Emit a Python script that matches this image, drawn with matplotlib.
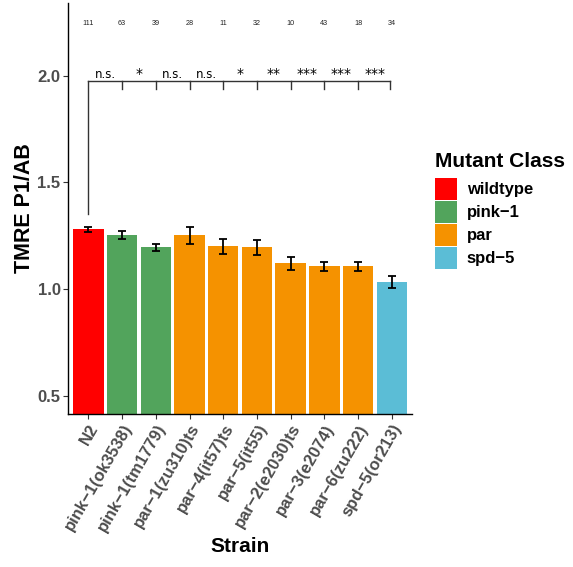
import matplotlib
matplotlib.use("Agg")
import matplotlib.pyplot as plt
from matplotlib.patches import Patch

plt.rcParams['font.family'] = ['Liberation Sans', 'DejaVu Sans']

# data
strains = ["N2", "pink\u22121(ok3538)", "pink\u22121(tm1779)", "par\u22121(zu310)ts",
           "par\u22124(it57)ts", "par\u22125(it55)", "par\u22122(e2030)ts",
           "par\u22123(e2074)", "par\u22126(zu222)", "spd\u22125(or213)"]
classes = ["wildtype", "pink-1", "pink-1", "par", "par", "par", "par", "par", "par", "spd-5"]
means = [1.280, 1.253, 1.197, 1.252, 1.200, 1.197, 1.121, 1.108, 1.108, 1.034]
sems = [0.013, 0.018, 0.016, 0.040, 0.036, 0.035, 0.030, 0.021, 0.021, 0.030]
counts = [111, 63, 39, 28, 11, 32, 10, 43, 18, 34]
signif = ["n.s.", "*", "n.s.", "n.s.", "*", "**", "***", "***", "***"]

class_names = ["wildtype", "pink-1", "par", "spd-5"]
class_labels = ["wildtype", "pink\u22121", "par", "spd\u22125"]
class_colors = {"wildtype": "#FF0000", "pink-1": "#52A45C", "par": "#F59200", "spd-5": "#5BBDD6"}

fig = plt.figure(figsize=(5.73, 5.67), dpi=100)
ax = fig.add_axes([0.119, 0.270, 0.600, 0.725])

x = list(range(len(strains)))
ax.bar(x, means, width=0.9, color=[class_colors[c] for c in classes], zorder=2)
ax.errorbar(x, means, yerr=sems, fmt='none', ecolor='black', elinewidth=1.3,
            capsize=2.7, capthick=1.3, zorder=3)

# significance bracket
top = 1.975
ax.plot([0, 0], [1.35, top], color='#333333', lw=1.0, zorder=1)
ax.plot([0, 8.95], [top, top], color='#333333', lw=1.0)
for i in range(1, 10):
    xi = min(i, 8.95)
    ax.plot([xi, xi], [top, top - 0.038], color='#333333', lw=1.0)
for i, s in enumerate(signif):
    fs = 8.5 if s == "n.s." else 10
    ax.text(i + 0.5, top + 0.002, s, ha='center', va='bottom', fontsize=fs,
            family='DejaVu Sans')

for i, n in enumerate(counts):
    ax.text(i, 2.243, str(n), ha='center', va='center', fontsize=5.2, color='#222222')

ax.set_xlim(-0.6, 9.6)
ax.set_ylim(0.416, 2.341)
ax.set_yticks([0.5, 1.0, 1.5, 2.0])
ax.set_yticklabels(["0.5", "1.0", "1.5", "2.0"])
ax.set_xticks(x)
ax.set_xticklabels(strains, rotation=60, ha='right', rotation_mode='anchor')
for lab in ax.get_xticklabels() + ax.get_yticklabels():
    lab.set_fontweight('bold')
    lab.set_color('#4D4D4D')
    lab.set_fontsize(12)
ax.tick_params(axis='both', length=3.5, width=0.8, color='#333333', pad=2)

for sp in ['top', 'right']:
    ax.spines[sp].set_visible(False)
for sp in ['left', 'bottom']:
    ax.spines[sp].set_linewidth(1.0)

ax.set_ylabel("TMRE P1/AB", fontsize=15.5, fontweight='bold', labelpad=1.5)
ax.set_xlabel("Strain", fontsize=15, fontweight='bold', labelpad=2)

# legend: title drawn separately so the gap to the keys matches
fig.text(0.759, 0.7055, "Mutant Class", fontsize=15, fontweight='bold', va='baseline')
handles = [Patch(facecolor=class_colors[c], edgecolor='none') for c in class_names]
leg = fig.legend(handles, class_labels, loc='upper left',
                 bbox_to_anchor=(0.759, 0.686), frameon=False, borderpad=0,
                 prop={'size': 12, 'weight': 'bold'}, handlelength=1.32, handleheight=1.65,
                 labelspacing=0.06, handletextpad=0.6, borderaxespad=0)

fig.savefig("out.png", dpi=100)
